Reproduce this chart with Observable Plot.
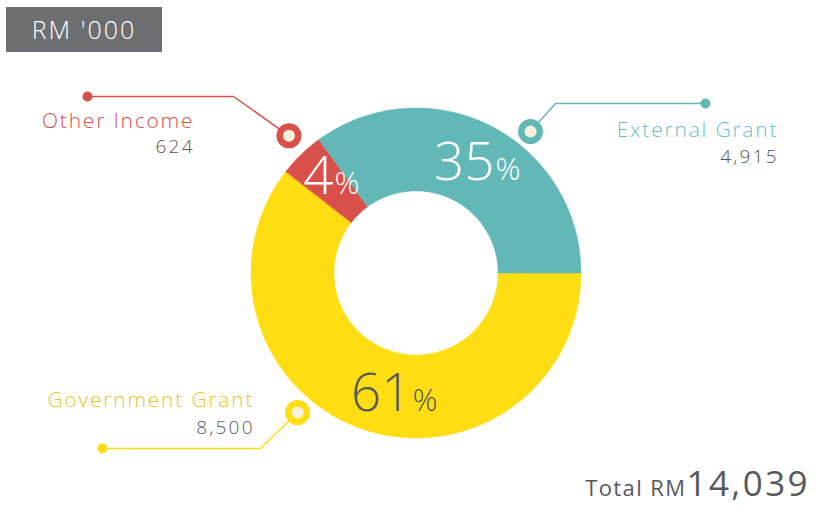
<!DOCTYPE html>
<html>
<head>
<meta charset="utf-8">
<script src="https://cdn.jsdelivr.net/npm/d3@7"></script>
<script src="https://cdn.jsdelivr.net/npm/@observablehq/plot@0.6"></script>
<style>
  body { margin: 0; background: #fff; font-family: "Open Sans", sans-serif; }
  #wrap { position: relative; width: 822px; height: 512px; }
  #badge { position: absolute; left: 6px; top: 7px; width: 156px; height: 45px; background: #6d6e71;
           color: #fff; font-weight: 300; font-size: 25px; letter-spacing: 2px; line-height: 45px; text-align: center; }
  #total { position: absolute; right: 12px; top: 459px; color: #58595b; font-weight: 400; white-space: nowrap; }
  #total .small { font-size: 22px; letter-spacing: 1.4px; }
  #total .big { font-size: 35px; letter-spacing: 2.4px; }
</style>
</head>
<body>
<div id="wrap">
  <div id="chart"></div>
  <div id="badge">RM '000</div>
  <div id="total"><span class="small">Total RM</span><span class="big">14,039</span></div>
</div>
<script>
// ---- data ----
const categories = ["Government Grant", "Other Income", "External Grant"];
const values = [8500, 624, 4915];
const valueLabels = ["8,500", "624", "4,915"];

// ---- styles / layout ----
const sliceColors = ["#ffdd13", "#d9504a", "#62b8b7"];
const nameColors = ["#e8c42a", "#d9504a", "#6cbfbe"];
const pctColors = ["#58595b", "#ffffff", "#ffffff"];
const center = {x: 415.5, y: 272.5};
const outerR = 165, innerR = 82;
// marker (angle deg clockwise from 12 o'clock, radius), elbow and end dot, label anchors
const layout = [
  {mAng: 220.3, mR: 183, elbow: [260, 448], end: [102, 448], label: [252, 406], num: [252, 433], pct: [411, 410]},
  {mAng: -42.8, mR: 187, elbow: [233, 96], end: [87, 96], label: [192, 127], num: [192, 152], pct: [333, 193]},
  {mAng: 39, mR: 182, elbow: [555, 103], end: [705, 103], label: [776, 136], num: [776, 162], pct: [494, 179]}
];

const total = d3.sum(values);
const pie = d3.pie().sort(null).startAngle(Math.PI / 2).endAngle(Math.PI / 2 + 2 * Math.PI)(values);
const pt = (a, r) => [center.x + r * Math.sin(a), center.y - r * Math.cos(a)];
const rad = (deg) => deg * Math.PI / 180;

// slice polygons
const slicePts = [];
pie.forEach((s, i) => {
  const n = Math.max(8, Math.ceil((s.endAngle - s.startAngle) / rad(0.5)));
  for (let k = 0; k <= n; k++) {
    const a = s.startAngle + (s.endAngle - s.startAngle) * k / n;
    const [x, y] = pt(a, outerR);
    slicePts.push({cat: categories[i], x, y});
  }
  for (let k = n; k >= 0; k--) {
    const a = s.startAngle + (s.endAngle - s.startAngle) * k / n;
    const [x, y] = pt(a, innerR);
    slicePts.push({cat: categories[i], x, y});
  }
});

// leader lines and markers
const leaderPts = [], markers = [], ends = [];
categories.forEach((c, i) => {
  const L = layout[i];
  const [mx, my] = pt(rad(L.mAng), L.mR);
  markers.push({cat: c, x: mx, y: my});
  ends.push({cat: c, x: L.end[0], y: L.end[1]});
  leaderPts.push({cat: c, x: mx, y: my}, {cat: c, x: L.elbow[0], y: L.elbow[1]}, {cat: c, x: L.end[0], y: L.end[1]});
});

const pctData = categories.map((c, i) => ({
  cat: c, x: layout[i].pct[0], y: layout[i].pct[1],
  pct: Math.round(values[i] / total * 100), color: pctColors[i]
}));

const font = "'Open Sans', sans-serif";
const marks = [
  Plot.line(slicePts, {x: "x", y: "y", z: "cat", fill: "cat", stroke: "cat", strokeWidth: 0.5, curve: "linear-closed"}),
  Plot.line(leaderPts, {x: "x", y: "y", z: "cat", stroke: "cat", strokeWidth: 1.5}),
  Plot.dot(ends, {x: "x", y: "y", fill: "cat", r: 5}),
  Plot.dot(markers, {x: "x", y: "y", fill: "cat", r: 12.5}),
  Plot.dot(markers, {x: "x", y: "y", fill: "#fbf0dc", r: 6})
];
const spacing = {name: 1.8, num: 2.2};
categories.forEach((c, i) => {
  const L = layout[i];
  marks.push(Plot.text([c], {x: () => L.label[0], y: () => L.label[1], text: d => d, textAnchor: "end", lineAnchor: "bottom",
    fill: nameColors[i], fontSize: 21, fontWeight: 300, fontFamily: font, dx: spacing.name}));
  marks.push(Plot.text([valueLabels[i]], {x: () => L.num[0], y: () => L.num[1], text: d => d, textAnchor: "end", lineAnchor: "bottom",
    fill: "#58595b", fontSize: 19, fontWeight: 300, fontFamily: font, dx: spacing.num}));
  const p = pctData[i];
  marks.push(Plot.text([p], {x: "x", y: "y", text: d => String(d.pct), textAnchor: "end", lineAnchor: "bottom",
    fill: p.color, fontSize: 53, fontWeight: 300, fontFamily: font, dx: 0}));
  marks.push(Plot.text([p], {x: "x", y: "y", text: () => "%", textAnchor: "start", lineAnchor: "bottom",
    fill: p.color, fontSize: 31, fontWeight: 300, fontFamily: font, dx: 1}));
});

const chart = Plot.plot({
  width: 822, height: 512,
  margin: 0,
  x: {domain: [0, 822], range: [0, 822], axis: null},
  y: {domain: [0, 512], range: [0, 512], axis: null},
  color: {domain: categories, range: sliceColors},
  style: {background: "transparent", overflow: "visible"},
  marks
});
// letter spacing for label text marks (name, number, pct digits, pct sign per category)
const textGroups = chart.querySelectorAll('g[aria-label="text"]');
textGroups.forEach((g, k) => {
  const kind = k % 4;
  if (kind === 0) g.style.letterSpacing = spacing.name + "px";
  if (kind === 1) g.style.letterSpacing = spacing.num + "px";
});
document.getElementById("chart").appendChild(chart);
</script>
</body>
</html>
